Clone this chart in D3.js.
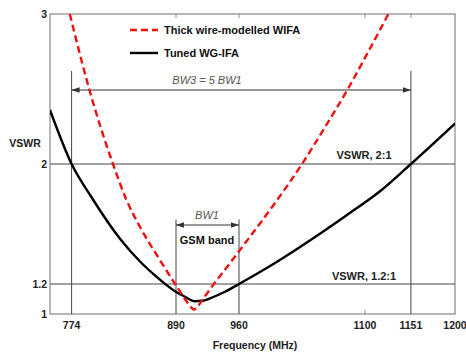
<!DOCTYPE html>
<html><head><meta charset="utf-8">
<script src="https://cdn.jsdelivr.net/npm/d3@7"></script>
<style>body{margin:0;background:#fff}svg{display:block;font-family:"Liberation Sans",Arial,sans-serif}</style>
</head><body><svg id="c" width="466" height="352"></svg>
<script>
// data
const tunedFreq = [750,774,796,828,850,868,888,900,911,920,930,945,960,1000,1040,1080,1117,1151,1200];
const tunedVswr = [2.36,2.00,1.78,1.50,1.35,1.25,1.155,1.115,1.085,1.088,1.11,1.15,1.20,1.34,1.495,1.66,1.82,2.00,2.27];
const thickFreq = [772,785,794,820,835,850,870,889,900,906,910,914,920,932,945,969,1000,1030,1055,1080,1102,1126];
const thickVswr = [3.0,2.69,2.49,2.00,1.76,1.58,1.38,1.20,1.10,1.05,1.03,1.05,1.10,1.20,1.30,1.49,1.74,2.00,2.24,2.49,2.73,3.0];
const xTicks = [774,890,960,1100,1151,1200];
const yTicks = [1,1.2,2,3];
const seriesNames = ["Thick wire-modelled WIFA","Tuned WG-IFA"];

const svg = d3.select("#c");
const x = d3.scaleLinear().domain([750,1200]).range([50,455]);
const y = d3.scaleLinear().domain([1,3]).range([314,14]);
const grid = "#444";

svg.append("defs").html(`<clipPath id="clip"><rect x="50" y="14" width="405" height="300"/></clipPath>
<marker id="ah" viewBox="0 0 10 10" refX="10" refY="5" markerWidth="8" markerHeight="8" markerUnits="userSpaceOnUse" orient="auto-start-reverse"><path d="M0,1.5L10,5L0,8.5Z" fill="#333"/></marker>`);

// frame
svg.append("rect").attr("x",50).attr("y",14).attr("width",405).attr("height",300)
  .attr("fill","none").attr("stroke","#888").attr("stroke-width",1.2);

// top ticks
[890,960,1100,1151].forEach(t=>{
  svg.append("line").attr("x1",x(t)).attr("x2",x(t)).attr("y1",14).attr("y2",18).attr("stroke","#888");
});
svg.append("line").attr("x1",x(1100)).attr("x2",x(1100)).attr("y1",314).attr("y2",310).attr("stroke","#888");

// horizontal reference lines
[2,1.2].forEach(v=>{
  svg.append("line").attr("x1",50).attr("x2",455).attr("y1",y(v)).attr("y2",y(v)).attr("stroke",grid).attr("stroke-width",1);
});
// vertical lines
[[774,2.62],[1151,2.62],[890,1.63],[960,1.63]].forEach(([f,top])=>{
  svg.append("line").attr("x1",x(f)).attr("x2",x(f)).attr("y1",y(top)).attr("y2",314).attr("stroke",grid).attr("stroke-width",1);
});

// BW3 arrow
svg.append("line").attr("x1",x(774)).attr("x2",x(1151)).attr("y1",90).attr("y2",90)
  .attr("stroke","#333").attr("stroke-width",1).attr("marker-start","url(#ah)").attr("marker-end","url(#ah)");
svg.append("text").attr("x",207).attr("y",84).attr("text-anchor","middle").attr("font-size",11)
  .attr("font-style","italic").attr("fill","#555").text("BW3 = 5 BW1");
// BW1 arrow
svg.append("line").attr("x1",x(890)).attr("x2",x(960)).attr("y1",225).attr("y2",225)
  .attr("stroke","#333").attr("stroke-width",1).attr("marker-start","url(#ah)").attr("marker-end","url(#ah)");
svg.append("text").attr("x",207).attr("y",219).attr("text-anchor","middle").attr("font-size",11)
  .attr("font-style","italic").attr("fill","#555").text("BW1");
svg.append("text").attr("x",207).attr("y",244).attr("text-anchor","middle").attr("font-size",11)
  .attr("font-weight","bold").attr("fill","#111").text("GSM band");

svg.append("text").attr("x",364).attr("y",159).attr("text-anchor","middle").attr("font-size",11).attr("font-weight","bold").attr("fill","#222").text("VSWR, 2:1");
svg.append("text").attr("x",364).attr("y",280).attr("text-anchor","middle").attr("font-size",11).attr("font-weight","bold").attr("fill","#222").text("VSWR, 1.2:1");

// curves
const line = d3.line().curve(d3.curveMonotoneX).x(d=>x(d[0])).y(d=>y(d[1]));
const g = svg.append("g").attr("clip-path","url(#clip)");
g.append("path").datum(tunedFreq.map((f,i)=>[f,tunedVswr[i]])).attr("d",line)
  .attr("fill","none").attr("stroke","#000").attr("stroke-width",2.4);
g.append("path").datum(thickFreq.map((f,i)=>[f,thickVswr[i]])).attr("d",line)
  .attr("fill","none").attr("stroke","#f01010").attr("stroke-width",2.4).attr("stroke-dasharray","7,4");

// legend
svg.append("line").attr("x1",130).attr("x2",158).attr("y1",30).attr("y2",30).attr("stroke","#f01010").attr("stroke-width",2.4).attr("stroke-dasharray","7,4");
svg.append("line").attr("x1",130).attr("x2",158).attr("y1",53).attr("y2",53).attr("stroke","#000").attr("stroke-width",2.4);
svg.append("text").attr("x",164).attr("y",34).attr("font-size",11).attr("font-weight","bold").attr("fill","#111").text(seriesNames[0]);
svg.append("text").attr("x",164).attr("y",57).attr("font-size",11).attr("font-weight","bold").attr("fill","#111").text(seriesNames[1]);

// tick labels
svg.append("g").selectAll("text").data(xTicks).join("text")
  .attr("x",d=>x(d)).attr("y",329).attr("text-anchor","middle").attr("font-size",10.5).attr("font-weight","bold").attr("fill","#222").text(d=>d);
svg.append("g").selectAll("text").data(yTicks).join("text")
  .attr("x",47).attr("y",d=>y(d)+4).attr("text-anchor","end").attr("font-size",10.5).attr("font-weight","bold").attr("fill","#222").text(d=>d);

svg.append("text").attr("x",25).attr("y",147).attr("text-anchor","middle").attr("font-size",10.5).attr("font-weight","bold").attr("fill","#222").text("VSWR");
svg.append("text").attr("x",255).attr("y",349).attr("text-anchor","middle").attr("font-size",10.5).attr("font-weight","bold").attr("fill","#222").text("Frequency (MHz)");
</script></body></html>
